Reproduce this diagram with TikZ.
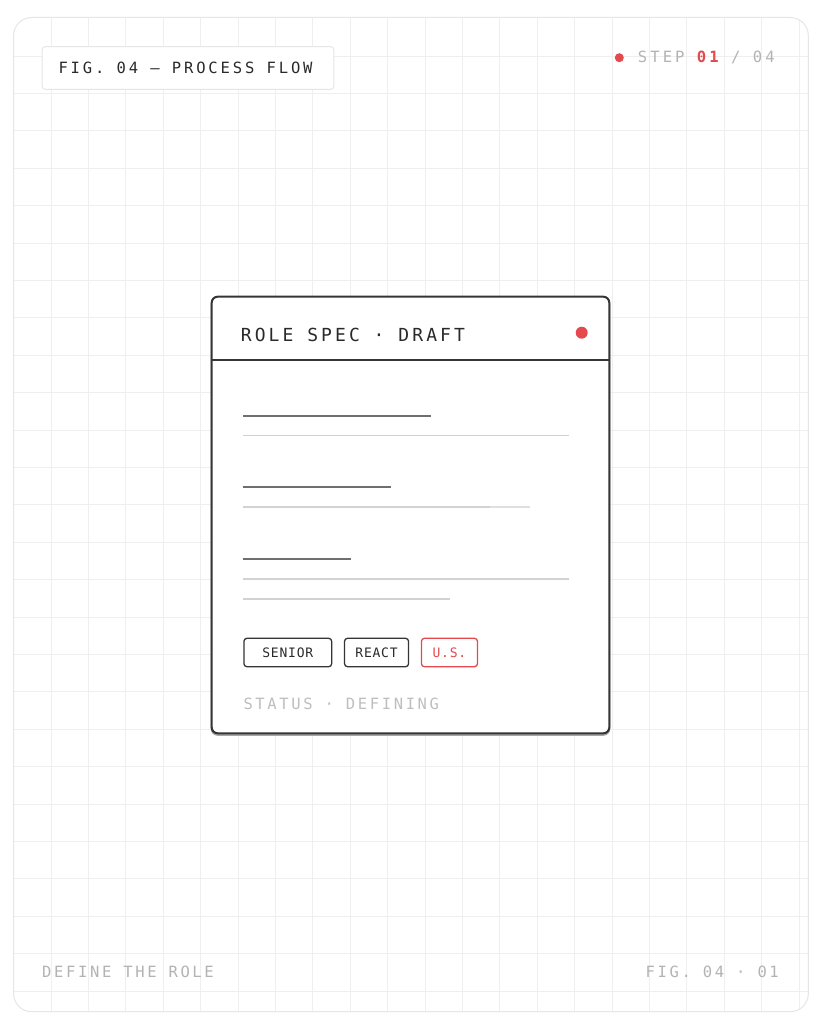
\documentclass[tikz,border=0pt]{standalone}
\usepackage{fontspec}
\usepackage{tikz}
\usetikzlibrary{positioning}
\newfontfamily\monowide[LetterSpace=17]{DejaVu Sans Mono}
\newfontfamily\monotag[LetterSpace=6]{DejaVu Sans Mono}
\definecolor{pfink}{HTML}{2A2A2A}
\definecolor{pfcard}{HTML}{353535}
\definecolor{pfred}{HTML}{E5484D}
\definecolor{pfgrid}{HTML}{EFEFEF}
\definecolor{pfframe}{HTML}{E6E6E6}
\definecolor{pfmute}{HTML}{B3B3B3}
\definecolor{pfbar}{HTML}{6F6F6F}
\definecolor{pfrule}{HTML}{D2D2D2}

\begin{document}
\begin{tikzpicture}[x=1pt,y=-1pt,
  gridline/.style={pfgrid, line width=0.9pt},
  bigtext/.style={inner sep=0pt, font=\monowide\fontsize{15.5pt}{15.5pt}\selectfont},
  tagbox/.style={draw=pfcard, line width=1.3pt, rounded corners=3pt, minimum height=28.4pt,
    inner sep=0pt, text=pfink, font=\monotag\fontsize{13pt}{13pt}\selectfont},
  reddot/.style={circle, fill=pfred, inner sep=0pt},
  darkbar/.style={pfbar, line width=2pt},
  lightbar/.style={pfrule, line width=1.5pt}]
\useasboundingbox (0,0) rectangle (821,1024);
\fill[white] (0,0) rectangle (821,1024);

% Grid paper
\begin{scope}
\clip[rounded corners=18pt] (13.6,17.5) rectangle (808.3,1011.7);
\foreach \i in {0,...,20} {
    \draw[gridline] ({51+37.4*\i},17.5) -- ({51+37.4*\i},1011.7);
}
\foreach \j in {0,...,25} {
    \draw[gridline] (13.6,{56+37.4*\j}) -- (808.3,{56+37.4*\j});
}
\end{scope}
\draw[pfframe, line width=1pt, rounded corners=18pt] (13.6,17.5) rectangle (808.3,1011.7);

% Header labels
\node[draw=pfframe, fill=white, line width=1pt, rounded corners=3pt, inner sep=0pt,
      minimum width=291.6pt, minimum height=42.6pt, anchor=west] (figtag) at (41.7,68) {};
\node[bigtext, text=pfink, anchor=west,
      font=\monowide\fontsize{15.5pt}{15.5pt}\selectfont\addfontfeatures{LetterSpace=18.5}] (figtext) at (58.3,68) {FIG. 04 — PROCESS FLOW};
\node[reddot, minimum size=9pt] (stepdot) at (619.3,57.7) {};
\node[bigtext, text=pfmute, anchor=west,
      font=\monowide\fontsize{15.5pt}{15.5pt}\selectfont\addfontfeatures{LetterSpace=20}] (step) at (637.7,57.7) {STEP \textcolor{pfred}{\bfseries 01} / 04};

% Card
\draw[black!35, line width=2pt, rounded corners=6pt] (211.7,298.2) rectangle (609.3,734.8);
\node[draw=pfcard, fill=white, line width=2pt, rounded corners=6pt, inner sep=0pt,
      minimum width=397.6pt, minimum height=436.6pt] (card) at (410.5,515) {};
\coordinate (hdrL) at (211.7,360);
\coordinate (hdrR) at (609.3,360);
\draw[pfcard, line width=1.6pt] (hdrL) -- (hdrR);
\node[inner sep=0pt, text=pfink, font=\monowide\fontsize{18pt}{18pt}\selectfont, anchor=west] (title) at (240.7,335) {ROLE SPEC · DRAFT};
\node[reddot, minimum size=12pt] (draftdot) at (581.7,332.7) {};

% Field placeholders
\draw[darkbar] (243.3,416) -- (430.7,416);
\draw[lightbar] (243.3,435.7) -- (569.3,435.7);
\draw[darkbar] (243.3,487.3) -- (390.7,487.3);
\draw[lightbar, pfrule!70] (243.3,507) -- (530,507);
\draw[lightbar] (243.3,507) -- (490,507);
\draw[darkbar] (243.3,559) -- (351.3,559);
\draw[lightbar] (243.3,579) -- (569.3,579);
\draw[lightbar] (243.3,599) -- (450,599);

% Tags
\node[tagbox, minimum width=87.7pt, anchor=west] (senior) at (243.3,652.5) {SENIOR};
\node[tagbox, minimum width=64pt, right=11.6pt of senior] (react) {REACT};
\node[tagbox, minimum width=56pt, draw=pfred, text=pfred, right=11.6pt of react] (us) {U.S.};
\node[bigtext, text=pfmute!85, anchor=west] (status) at (243.3,704) {STATUS · DEFINING};

% Footer
\node[bigtext, text=pfmute, anchor=west] (footL) at (42,972) {DEFINE THE ROLE};
\node[bigtext, text=pfmute, anchor=east] (footR) at (779,972) {FIG. 04 · 01};
\end{tikzpicture}
\end{document}
